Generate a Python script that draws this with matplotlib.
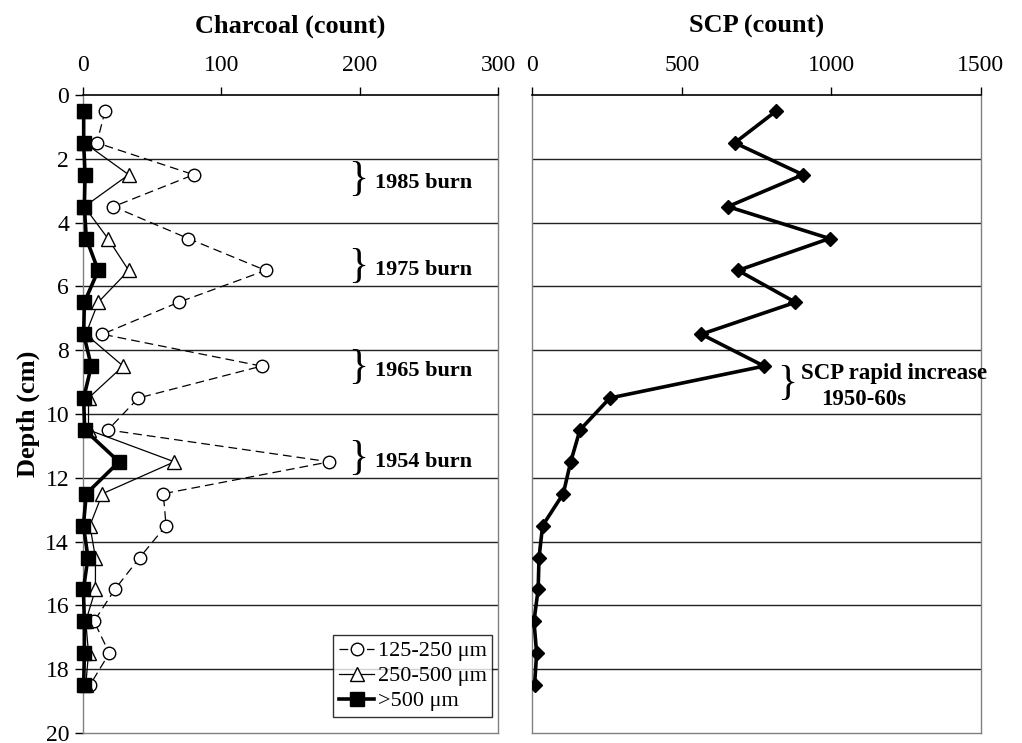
import matplotlib
matplotlib.use("Agg")
import matplotlib.pyplot as plt

plt.rcParams['font.family'] = ['Liberation Serif', 'DejaVu Serif']

depth = [0.5, 1.5, 2.5, 3.5, 4.5, 5.5, 6.5, 7.5, 8.5, 9.5,
         10.5, 11.5, 12.5, 13.5, 14.5, 15.5, 16.5, 17.5, 18.5]
char_125_250 = [16, 10, 80, 22, 76, 132, 69, 14, 129, 40,
                18, 178, 58, 60, 41, 23, 8, 19, 5]
char_250_500 = [1, 1, 33, 1, 18, 33, 11, 2, 29, 4,
                4, 66, 14, 5, 9, 9, 2, 4, 2]
char_500 = [0.5, 0.5, 1.5, 1, 2.4, 11, 1, 0.5, 6, 0.5,
            1.2, 26, 2.4, 0.3, 3.6, 0.3, 1, 1, 0.5]
scp = [816, 677, 905, 654, 994, 688, 880, 565, 775, 259,
       159, 128, 103, 34, 22, 19, 5, 14, 7]

burn_labels = ["1985 burn", "1975 burn", "1965 burn", "1954 burn"]
burn_depths = [2.75, 5.5, 8.65, 11.5]
legend_labels = ["125-250 \u03bcm", "250-500 \u03bcm", ">500 \u03bcm"]

fig = plt.figure(figsize=(10.22, 7.43), dpi=100)
ax1 = fig.add_axes([0.0812, 0.0135, 0.4064, 0.8587])
ax2 = fig.add_axes([0.5210, 0.0135, 0.4386, 0.8587])

gray = '#808080'
for ax, xmax, step in [(ax1, 300, 100), (ax2, 1500, 500)]:
    ax.set_ylim(20, 0)
    ax.set_xlim(0, xmax)
    ax.xaxis.set_ticks_position('top')
    ax.xaxis.set_label_position('top')
    ax.set_xticks(range(0, xmax + 1, step))
    ax.tick_params(axis='x', direction='out', length=6, width=1, labelsize=17, pad=8)
    for y in range(2, 20, 2):
        ax.axhline(y, color='#222222', lw=1.0, zorder=0)
    ax.spines['top'].set_color('black')
    ax.spines['top'].set_linewidth(1.2)
    for s in ['left', 'right', 'bottom']:
        ax.spines[s].set_color(gray)
        ax.spines[s].set_linewidth(1.0)

ax1.set_yticks(range(0, 21, 2))
ax1.tick_params(axis='y', direction='out', length=6, width=1, labelsize=17, pad=4)
ax2.set_yticks([])

ax1.set_xlabel("Charcoal (count)", fontsize=19, fontweight='bold', labelpad=16)
ax2.set_xlabel("SCP (count)", fontsize=19, fontweight='bold', labelpad=16)
ax1.set_ylabel("Depth (cm)", fontsize=19, fontweight='bold', labelpad=4)

l1, = ax1.plot(char_125_250, depth, linestyle=(0, (7, 4)), color='black', lw=0.9,
               marker='o', markersize=9, markerfacecolor='white', markeredgecolor='black',
               markeredgewidth=1.0, zorder=3, clip_on=False)
l2, = ax1.plot(char_250_500, depth, linestyle='-', color='black', lw=0.9,
               marker='^', markersize=10, markerfacecolor='white', markeredgecolor='black',
               markeredgewidth=1.0, zorder=4, clip_on=False)
l3, = ax1.plot(char_500, depth, linestyle='-', color='black', lw=2.6,
               marker='s', markersize=9.5, markerfacecolor='black', markeredgecolor='black',
               zorder=5, clip_on=False)

leg = ax1.legend([l1, l2, l3], legend_labels, loc='lower right',
                 bbox_to_anchor=(0.985, 0.025), fontsize=16, frameon=True,
                 fancybox=False, edgecolor='black', handlelength=1.6,
                 handletextpad=0.15, borderpad=0.25, labelspacing=0.2,
                 borderaxespad=0)
leg.get_frame().set_linewidth(1.0)

for lab, d in zip(burn_labels, burn_depths):
    ax1.text(199, d - 0.1, "}", fontsize=30, ha='center', va='center',
             fontweight='light')
    ax1.text(211, d, lab, fontsize=16, fontweight='bold', ha='left', va='center')

ax2.plot(scp, depth, color='black', lw=2.6, marker='D', markersize=7,
         markerfacecolor='black', markeredgecolor='black', zorder=3)

ax2.text(853, 9.05, "}", fontsize=30, ha='center', va='center')
ax2.text(900, 8.73, "SCP rapid increase", fontsize=16.5, fontweight='bold',
         ha='left', va='center')
ax2.text(967, 9.55, "1950-60s", fontsize=16.5, fontweight='bold',
         ha='left', va='center')

fig.savefig("out.png", dpi=100)
